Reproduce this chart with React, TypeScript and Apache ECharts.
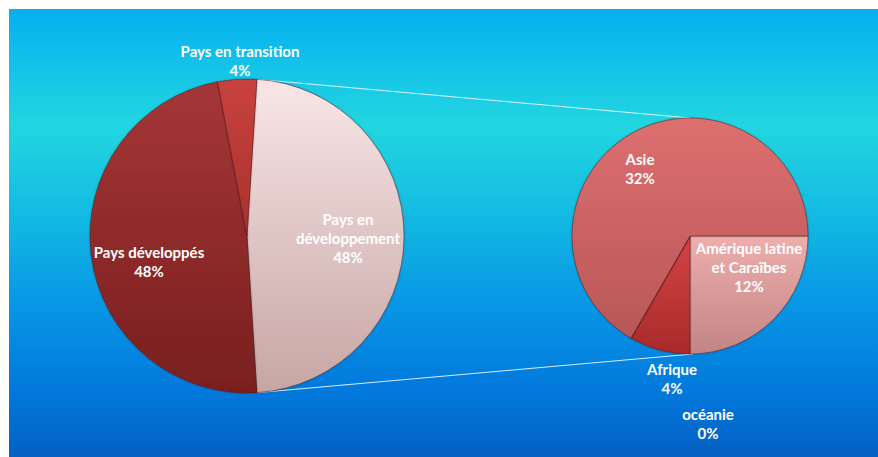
import React, { useEffect, useRef } from "react";
import * as echarts from "echarts";

// ---- data ----
const mainCategories = ["Pays en\ndéveloppement", "Pays développés", "Pays en transition"];
const mainValues = [48, 48, 4];
const subCategories = ["Amérique latine\net Caraïbes", "Afrique", "océanie", "Asie"];
const subValues = [12, 4, 0, 32];

// ---- layout / style (kept apart from data) ----
const W = 878;
const H = 457;
const MAIN_C = [247, 236];
const MAIN_R = 157;
const SUB_C = [690, 236];
const SUB_R = 118;
const mainLabelPos = [
  [348, 238],
  [149, 261],
  [240, 60],
];
const subLabelPos = [
  [749, 267],
  [672, 378],
  [708, 423],
  [640, 168],
];
const mainColors = [
  ["#f8e6e6", "#c6a6a3"],
  ["#a53636", "#791f1f"],
  ["#c8433e", "#ab2f2c"],
];
const subColors = [
  ["#eeaeae", "#c28484"],
  ["#d44444", "#a82a2a"],
  ["#e08080", "#c06060"],
  ["#de6f6f", "#b85757"],
];

const grad = (c: string[]) =>
  new echarts.graphic.LinearGradient(0, 0, 0, 1, [
    { offset: 0, color: c[0] },
    { offset: 1, color: c[1] },
  ]);

const FONT = "Lato, 'Open Sans', sans-serif";

export default function App() {
  const ref = useRef<HTMLDivElement>(null);
  useEffect(() => {
    if (!ref.current) return;
    const chart = echarts.init(ref.current, undefined, { renderer: "svg" });

    // start angle so that the developing-countries slice is centred at 3 o'clock
    const total = mainValues.reduce((a, b) => a + b, 0);
    const devAngle = (mainValues[0] / total) * 360;
    const startAngle = devAngle / 2;
    const rad = (d: number) => (d * Math.PI) / 180;
    const p1 = [MAIN_C[0] + MAIN_R * Math.cos(rad(startAngle)), MAIN_C[1] - MAIN_R * Math.sin(rad(startAngle))];
    const p2 = [MAIN_C[0] + MAIN_R * Math.cos(rad(-startAngle)), MAIN_C[1] - MAIN_R * Math.sin(rad(-startAngle))];
    const q1 = [SUB_C[0], SUB_C[1] - SUB_R];
    const q2 = [SUB_C[0] + 3, SUB_C[1] + SUB_R];

    const labelStyle = {
      show: true,
      position: "inside" as const,
      formatter: "{b}\n{c}%",
      color: "#ffffff",
      fontFamily: FONT,
      fontWeight: "bold" as const,
      fontSize: 15,
      lineHeight: 19,
      align: "center" as const,
    };

    const itemBase = {
      borderColor: "rgba(90,25,25,0.5)",
      borderWidth: 1,
      shadowBlur: 2,
      shadowColor: "rgba(0,0,40,0.25)",
    };

    chart.setOption({
      animation: false,
      graphic: [
        {
          type: "rect",
          z: 0,
          shape: { x: 9, y: 9, width: W - 9, height: H - 9 },
          style: {
            fill: new echarts.graphic.LinearGradient(0, 0, 0, 1, [
              { offset: 0, color: "#06aff0" },
              { offset: 0.26, color: "#22d6e0" },
              { offset: 0.45, color: "#14bce2" },
              { offset: 0.65, color: "#0898e6" },
              { offset: 0.85, color: "#0279dc" },
              { offset: 1, color: "#0560c2" },
            ]),
          },
        },
        {
          type: "line",
          z: 5,
          shape: { x1: p1[0], y1: p1[1], x2: q1[0], y2: q1[1] },
          style: { stroke: "rgba(235,250,255,0.9)", lineWidth: 1 },
        },
        {
          type: "line",
          z: 5,
          shape: { x1: p2[0], y1: p2[1], x2: q2[0], y2: q2[1] },
          style: { stroke: "rgba(235,250,255,0.9)", lineWidth: 1 },
        },
      ],
      series: [
        {
          type: "pie",
          center: MAIN_C,
          radius: MAIN_R,
          startAngle,
          clockwise: true,
          z: 10,
          label: labelStyle,
          labelLine: { show: false },
          labelLayout: (p: any) => ({
            x: mainLabelPos[p.dataIndex][0],
            y: mainLabelPos[p.dataIndex][1],
            align: "center",
            verticalAlign: "middle",
          }),
          itemStyle: itemBase,
          emphasis: { disabled: true },
          data: mainValues.map((v, i) => ({
            name: mainCategories[i],
            value: v,
            itemStyle: { color: grad(mainColors[i]) },
          })),
        },
        {
          type: "pie",
          center: SUB_C,
          radius: SUB_R,
          startAngle: 0,
          clockwise: true,
          z: 10,
          label: labelStyle,
          labelLine: { show: false },
          labelLayout: (p: any) => ({
            x: subLabelPos[p.dataIndex][0],
            y: subLabelPos[p.dataIndex][1],
            align: "center",
            verticalAlign: "middle",
          }),
          itemStyle: itemBase,
          emphasis: { disabled: true },
          data: subValues.map((v, i) => ({
            name: subCategories[i],
            value: v,
            itemStyle: { color: grad(subColors[i]) },
          })),
        },
      ],
    });
    return () => chart.dispose();
  }, []);
  return (
    <div
      ref={ref}
      style={{ position: "absolute", left: 0, top: 0, width: W, height: H }}
    />
  );
}
